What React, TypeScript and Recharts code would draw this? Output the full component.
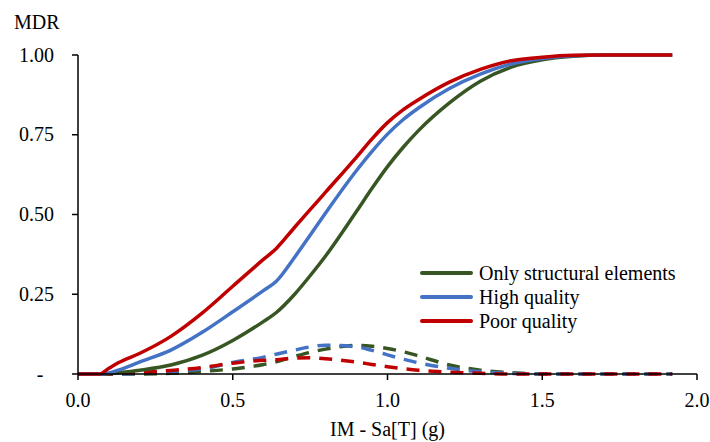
import React from "react";
import { LineChart, Line, XAxis, YAxis } from "recharts";

// IM - Sa[T] (g)
const imValues = [0, 0.07, 0.1, 0.13, 0.2, 0.3, 0.4, 0.5, 0.6, 0.64, 0.7, 0.75, 0.8, 0.9, 0.95, 1.0, 1.05, 1.1, 1.2, 1.3, 1.4, 1.5, 1.6, 1.7, 1.8, 1.92];

// MDR, solid curves
const structuralMdr = [0, 0, 0.001, 0.004, 0.012, 0.028, 0.058, 0.105, 0.165, 0.192, 0.25, 0.308, 0.37, 0.51, 0.582, 0.65, 0.71, 0.763, 0.85, 0.918, 0.962, 0.985, 0.996, 1, 1, 1];
const highMdr = [0, 0, 0.003, 0.012, 0.038, 0.075, 0.13, 0.195, 0.262, 0.29, 0.366, 0.435, 0.505, 0.638, 0.698, 0.752, 0.797, 0.834, 0.895, 0.94, 0.972, 0.989, 0.998, 1, 1, 1];
const poorMdr = [0, 0, 0.018, 0.035, 0.065, 0.118, 0.19, 0.275, 0.36, 0.393, 0.46, 0.515, 0.57, 0.68, 0.737, 0.788, 0.828, 0.86, 0.915, 0.955, 0.982, 0.993, 0.999, 1, 1, 1];

// dashed curves
const structuralDash = [0, 0, 0, 0, 0, 0.002, 0.008, 0.016, 0.03, 0.038, 0.055, 0.068, 0.078, 0.09, 0.087, 0.08, 0.07, 0.057, 0.028, 0.012, 0.004, 0, 0, 0, 0, 0];
const highDash = [0, 0, 0, 0, 0.003, 0.008, 0.016, 0.036, 0.053, 0.062, 0.075, 0.085, 0.09, 0.085, 0.074, 0.06, 0.047, 0.035, 0.018, 0.007, 0.002, 0, 0, 0, 0, 0];
const poorDash = [0, 0, 0, 0.002, 0.005, 0.011, 0.02, 0.034, 0.043, 0.045, 0.05, 0.051, 0.048, 0.037, 0.03, 0.023, 0.017, 0.012, 0.006, 0.002, 0, 0, 0, 0, 0, 0];

const xTicks = [0, 0.5, 1, 1.5, 2];
const yTicks = [0, 0.25, 0.5, 0.75, 1];

const seriesNames = ["Only structural elements", "High quality", "Poor quality"];
const colors = ["#375623", "#4472C4", "#C00000"];

const data = imValues.map((x, i) => ({
  x,
  s: structuralMdr[i],
  h: highMdr[i],
  p: poorMdr[i],
  sd: structuralDash[i],
  hd: highDash[i],
  pd: poorDash[i],
}));

const font = "'Liberation Serif', 'Times New Roman', serif";

const YTick = (props: any) => {
  const { y, payload } = props;
  const v = payload.value;
  if (v === 0) {
    return (
      <text x={40} y={y + 6.5} textAnchor="middle" fontSize={20} fontFamily={font} fill="#000">
        -
      </text>
    );
  }
  return (
    <text x={54} y={y + 6.5} textAnchor="end" fontSize={20} fontFamily={font} fill="#000">
      {v.toFixed(2)}
    </text>
  );
};

const XTick = (props: any) => {
  const { x, payload } = props;
  return (
    <text x={x} y={406.5} textAnchor="middle" fontSize={20} fontFamily={font} fill="#000">
      {payload.value.toFixed(1)}
    </text>
  );
};

export default function App() {
  return (
    <div style={{ position: "fixed", left: 0, top: 0, width: 710, height: 442, background: "#fff" }}>
      <LineChart width={710} height={442} data={data} margin={{ top: 55, right: 13, left: 0, bottom: 0 }}>
        <XAxis
          dataKey="x"
          type="number"
          domain={[0, 2]}
          ticks={xTicks}
          height={68}
          tickSize={6}
          axisLine={{ stroke: "#000", strokeWidth: 1.5 }}
          tickLine={{ stroke: "#000", strokeWidth: 1.5 }}
          tick={<XTick />}
        />
        <YAxis
          type="number"
          domain={[0, 1]}
          ticks={yTicks}
          width={78}
          tickSize={6}
          axisLine={{ stroke: "#000", strokeWidth: 1.5 }}
          tickLine={{ stroke: "#000", strokeWidth: 1.5 }}
          tick={<YTick />}
        />
        <Line dataKey="sd" type="monotone" stroke={colors[0]} strokeWidth={3.5} strokeDasharray="13 9" dot={false} legendType="none" isAnimationActive={false} />
        <Line dataKey="hd" type="monotone" stroke={colors[1]} strokeWidth={3.5} strokeDasharray="13 9" dot={false} legendType="none" isAnimationActive={false} />
        <Line dataKey="pd" type="monotone" stroke={colors[2]} strokeWidth={3.5} strokeDasharray="13 9" dot={false} legendType="none" isAnimationActive={false} />
        <Line dataKey="s" name={seriesNames[0]} type="monotone" stroke={colors[0]} strokeWidth={3.5} dot={false} isAnimationActive={false} />
        <Line dataKey="h" name={seriesNames[1]} type="monotone" stroke={colors[1]} strokeWidth={3.5} dot={false} isAnimationActive={false} />
        <Line dataKey="p" name={seriesNames[2]} type="monotone" stroke={colors[2]} strokeWidth={3.5} dot={false} isAnimationActive={false} />
      </LineChart>
      <svg width={710} height={442} style={{ position: "absolute", left: 0, top: 0, pointerEvents: "none" }}>
        <text x={14} y={28.5} fontSize={20} fontFamily={font} fill="#000">MDR</text>
        <text x={387.5} y={436} textAnchor="middle" fontSize={20} fontFamily={font} fill="#000">IM - Sa[T] (g)</text>
      </svg>
      <div style={{ position: "absolute", left: 420, top: 261, fontFamily: font, fontSize: 20, color: "#000", lineHeight: "24px" }}>
        {seriesNames.map((n, i) => (
          <div key={n} style={{ display: "flex", alignItems: "center", height: 24 }}>
            <span style={{ display: "inline-block", width: 53, height: 3.5, background: colors[i], borderRadius: 2, marginRight: 6 }} />
            <span>{n}</span>
          </div>
        ))}
      </div>
    </div>
  );
}
